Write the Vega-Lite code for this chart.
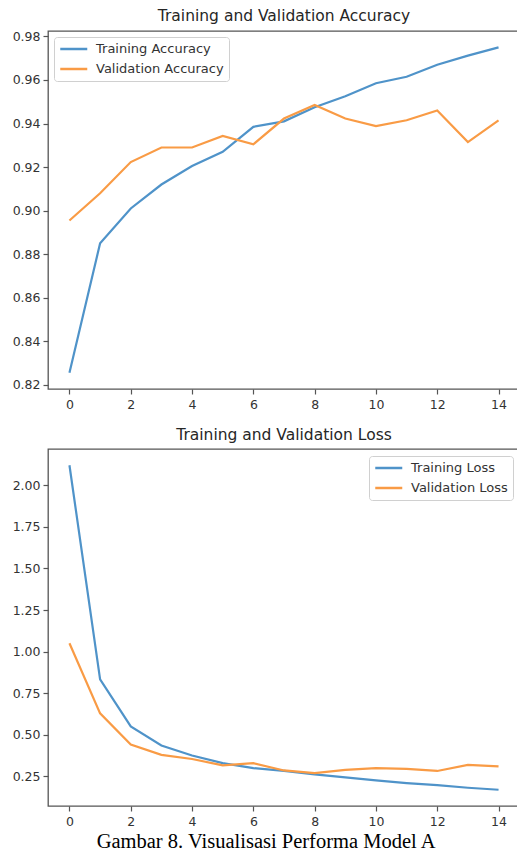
{
  "$schema": "https://vega.github.io/schema/vega-lite/v6.json",
  "padding": {"left": 11, "top": 8, "right": 0, "bottom": 0},
  "background": "white",
  "datasets": {
    "accuracy": [
      {"epoch": 0, "series": "Training Accuracy", "value": 0.8256},
      {"epoch": 1, "series": "Training Accuracy", "value": 0.885},
      {"epoch": 2, "series": "Training Accuracy", "value": 0.901},
      {"epoch": 3, "series": "Training Accuracy", "value": 0.912},
      {"epoch": 4, "series": "Training Accuracy", "value": 0.9205},
      {"epoch": 5, "series": "Training Accuracy", "value": 0.927},
      {"epoch": 6, "series": "Training Accuracy", "value": 0.9385},
      {"epoch": 7, "series": "Training Accuracy", "value": 0.941},
      {"epoch": 8, "series": "Training Accuracy", "value": 0.9475},
      {"epoch": 9, "series": "Training Accuracy", "value": 0.9525},
      {"epoch": 10, "series": "Training Accuracy", "value": 0.9585},
      {"epoch": 11, "series": "Training Accuracy", "value": 0.9615},
      {"epoch": 12, "series": "Training Accuracy", "value": 0.967},
      {"epoch": 13, "series": "Training Accuracy", "value": 0.9712},
      {"epoch": 14, "series": "Training Accuracy", "value": 0.975},
      {"epoch": 0, "series": "Validation Accuracy", "value": 0.8955},
      {"epoch": 1, "series": "Validation Accuracy", "value": 0.908},
      {"epoch": 2, "series": "Validation Accuracy", "value": 0.9223},
      {"epoch": 3, "series": "Validation Accuracy", "value": 0.929},
      {"epoch": 4, "series": "Validation Accuracy", "value": 0.929},
      {"epoch": 5, "series": "Validation Accuracy", "value": 0.9343},
      {"epoch": 6, "series": "Validation Accuracy", "value": 0.9305},
      {"epoch": 7, "series": "Validation Accuracy", "value": 0.9423},
      {"epoch": 8, "series": "Validation Accuracy", "value": 0.9485},
      {"epoch": 9, "series": "Validation Accuracy", "value": 0.9423},
      {"epoch": 10, "series": "Validation Accuracy", "value": 0.9388},
      {"epoch": 11, "series": "Validation Accuracy", "value": 0.9415},
      {"epoch": 12, "series": "Validation Accuracy", "value": 0.946},
      {"epoch": 13, "series": "Validation Accuracy", "value": 0.9315},
      {"epoch": 14, "series": "Validation Accuracy", "value": 0.9415}
    ],
    "loss": [
      {"epoch": 0, "series": "Training Loss", "value": 2.12},
      {"epoch": 1, "series": "Training Loss", "value": 0.833},
      {"epoch": 2, "series": "Training Loss", "value": 0.551},
      {"epoch": 3, "series": "Training Loss", "value": 0.436},
      {"epoch": 4, "series": "Training Loss", "value": 0.376},
      {"epoch": 5, "series": "Training Loss", "value": 0.33},
      {"epoch": 6, "series": "Training Loss", "value": 0.30},
      {"epoch": 7, "series": "Training Loss", "value": 0.283},
      {"epoch": 8, "series": "Training Loss", "value": 0.262},
      {"epoch": 9, "series": "Training Loss", "value": 0.245},
      {"epoch": 10, "series": "Training Loss", "value": 0.226},
      {"epoch": 11, "series": "Training Loss", "value": 0.21},
      {"epoch": 12, "series": "Training Loss", "value": 0.198},
      {"epoch": 13, "series": "Training Loss", "value": 0.182},
      {"epoch": 14, "series": "Training Loss", "value": 0.17},
      {"epoch": 0, "series": "Validation Loss", "value": 1.05},
      {"epoch": 1, "series": "Validation Loss", "value": 0.629},
      {"epoch": 2, "series": "Validation Loss", "value": 0.442},
      {"epoch": 3, "series": "Validation Loss", "value": 0.38},
      {"epoch": 4, "series": "Validation Loss", "value": 0.355},
      {"epoch": 5, "series": "Validation Loss", "value": 0.317},
      {"epoch": 6, "series": "Validation Loss", "value": 0.33},
      {"epoch": 7, "series": "Validation Loss", "value": 0.286},
      {"epoch": 8, "series": "Validation Loss", "value": 0.27},
      {"epoch": 9, "series": "Validation Loss", "value": 0.29},
      {"epoch": 10, "series": "Validation Loss", "value": 0.30},
      {"epoch": 11, "series": "Validation Loss", "value": 0.295},
      {"epoch": 12, "series": "Validation Loss", "value": 0.283},
      {"epoch": 13, "series": "Validation Loss", "value": 0.32},
      {"epoch": 14, "series": "Validation Loss", "value": 0.31}
    ]
  },
  "title": {
    "text": "Gambar 8. Visualisasi Performa Model A",
    "orient": "bottom",
    "anchor": "middle",
    "frame": "bounds",
    "font": "Liberation Serif",
    "fontSize": 20.5,
    "fontWeight": "normal",
    "color": "#000000",
    "offset": 4
  },
  "spacing": 14,
  "resolve": {"scale": {"color": "independent"}, "legend": {"color": "independent"}},
  "vconcat": [
    {
      "width": 472,
      "height": 358,
      "title": {"text": "Training and Validation Accuracy"},
      "data": {"name": "accuracy"},
      "mark": {"type": "line", "strokeWidth": 2.2},
      "encoding": {
        "x": {
          "field": "epoch", "type": "quantitative",
          "scale": {"domain": [-0.7, 14.7], "nice": false, "zero": false},
          "axis": {"values": [0, 2, 4, 6, 8, 10, 12, 14], "format": "d", "title": null}
        },
        "y": {
          "field": "value", "type": "quantitative",
          "scale": {"domain": [0.8181, 0.9825], "nice": false, "zero": false},
          "axis": {"values": [0.82, 0.84, 0.86, 0.88, 0.9, 0.92, 0.94, 0.96, 0.98], "format": ".2f", "title": null}
        },
        "color": {
          "field": "series", "type": "nominal",
          "scale": {"domain": ["Training Accuracy", "Validation Accuracy"], "range": ["#4f93c9", "#f99b45"]},
          "legend": {"orient": "top-left", "title": null}
        }
      }
    },
    {
      "width": 472,
      "height": 357,
      "title": {"text": "Training and Validation Loss"},
      "data": {"name": "loss"},
      "mark": {"type": "line", "strokeWidth": 2.2},
      "encoding": {
        "x": {
          "field": "epoch", "type": "quantitative",
          "scale": {"domain": [-0.7, 14.7], "nice": false, "zero": false},
          "axis": {"values": [0, 2, 4, 6, 8, 10, 12, 14], "format": "d", "title": null}
        },
        "y": {
          "field": "value", "type": "quantitative",
          "scale": {"domain": [0.0725, 2.2175], "nice": false, "zero": false},
          "axis": {"values": [0.25, 0.5, 0.75, 1.0, 1.25, 1.5, 1.75, 2.0], "format": ".2f", "title": null}
        },
        "color": {
          "field": "series", "type": "nominal",
          "scale": {"domain": ["Training Loss", "Validation Loss"], "range": ["#4f93c9", "#f99b45"]},
          "legend": {"orient": "top-right", "title": null, "offset": 7}
        }
      }
    }
  ],
  "config": {
    "font": "DejaVu Sans",
    "view": {"stroke": "#555555", "strokeWidth": 1.3},
    "title": {"fontSize": 15.5, "fontWeight": "normal", "color": "#262626", "offset": 6, "font": "DejaVu Sans"},
    "axis": {
      "domain": false,
      "grid": false,
      "ticks": true,
      "tickSize": 5,
      "tickColor": "#555555",
      "tickWidth": 1.2,
      "labelFontSize": 12.5,
      "labelColor": "#333333",
      "labelPadding": 3,
      "labelFont": "DejaVu Sans"
    },
    "axisX": {"labelPadding": 4},
    "legend": {
      "symbolType": "M-1,0H3.7",
      "symbolSize": 132,
      "symbolStrokeWidth": 2.5,
      "labelFontSize": 13,
      "labelColor": "#333333",
      "labelFont": "DejaVu Sans",
      "rowPadding": 6,
      "padding": 5,
      "offset": 6,
      "strokeColor": "#d0d0d0",
      "fillColor": "#ffffff",
      "cornerRadius": 3,
      "labelOffset": 23
    }
  }
}
